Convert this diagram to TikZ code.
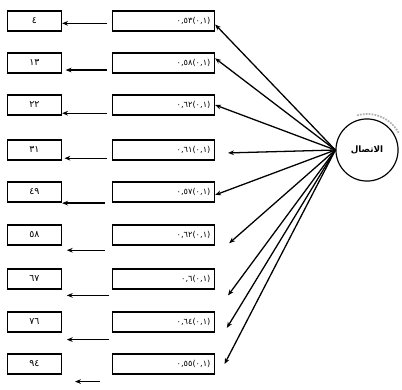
\documentclass[tikz,border=0pt]{standalone}
\usepackage{fontspec}
\newfontfamily\arabicfont[Script=Arabic]{DejaVu Sans}
\newfontfamily\digitfont{DejaVu Sans}
\TeXXeTstate=1
\usetikzlibrary{arrows.meta, positioning}

% loading and its error, kept in reading order
\newcommand{\ldval}[2]{\hbox{#1}\hbox{(#2)}}

\begin{document}
\begin{tikzpicture}[x=0.03cm, y=-0.03cm, >={Stealth[length=5pt, width=4pt]},
  itembox/.style={draw, line width=1.2pt, minimum width=46pt, minimum height=17pt, inner sep=0pt, font=\digitfont\fontsize{8}{9}\selectfont},
  loadbox/.style={draw, line width=1.2pt, minimum width=87pt, minimum height=17pt, inner sep=0pt, text width=80pt, align=right, font=\digitfont\fontsize{7}{8}\selectfont},
  arr/.style={->, line width=1.1pt}]

\useasboundingbox (0,0) rectangle (402,389);

% latent factor on the right
\node[draw, circle, line width=1pt, minimum size=53pt, inner sep=0pt, font=\arabicfont\bfseries\fontsize{7.5}{8}\selectfont] (comm) at (367,150) {\beginR الاتصال\endR};
% faint scan arc above the circle
\draw[gray!60, densely dotted, line width=1.5pt] (comm.center) ++(-106:36) arc[start angle=-106, end angle=-27, radius=36];

% loading boxes (middle column)
\node[loadbox] (ld1) at (163.5,21)  {\ldval{٠,٥٣}{٠,١}};
\node[loadbox] (ld2) at (163.5,63)  {\ldval{٠,٥٨}{٠,١}};
\node[loadbox] (ld3) at (163.5,105) {\ldval{٠,٦٢}{٠,١}};
\node[loadbox] (ld4) at (163.5,150) {\ldval{٠,٦١}{٠,١}};
\node[loadbox] (ld5) at (163.5,192) {\ldval{٠,٥٧}{٠,١}};
\node[loadbox] (ld6) at (163.5,235) {\ldval{٠,٦٢}{٠,١}};
\node[loadbox] (ld7) at (163.5,279) {\ldval{٠,٦}{٠,١}};
\node[loadbox] (ld8) at (163.5,322) {\ldval{٠,٦٤}{٠,١}};
\node[loadbox] (ld9) at (163.5,364) {\ldval{٠,٥٥}{٠,١}};

% item boxes (left column)
\node[itembox] (it1) at (34.5,21)  {٤};
\node[itembox] (it2) at (34.5,63)  {١٣};
\node[itembox] (it3) at (34.5,105) {٢٢};
\node[itembox] (it4) at (34.5,150) {٣١};
\node[itembox] (it5) at (34.5,192) {٤٩};
\node[itembox] (it6) at (34.5,235) {٥٨};
\node[itembox] (it7) at (34.5,279) {٦٧};
\node[itembox] (it8) at (34.5,322) {٧٦};
\node[itembox] (it9) at (34.5,364) {٩٤};

% arrows from the factor to the loading boxes
\draw[arr] (comm.west) -- ([yshift=-3pt]ld1.east);
\draw[arr] (comm.west) -- ([yshift=4pt]ld2.east);
\draw[arr] (comm.west) -- (ld3.east);
\draw[arr] (comm.west) -- ([xshift=11pt, yshift=-2.5pt]ld4.east);
\draw[arr] (comm.west) -- ([yshift=-2.5pt]ld5.east);
\draw[arr] (comm.west) -- ([xshift=12pt, yshift=-7pt]ld6.east);
\draw[arr] (comm.west) -- ([xshift=11pt, yshift=-14pt]ld7.east);
\draw[arr] (comm.west) -- ([xshift=10pt, yshift=-5pt]ld8.east);
\draw[arr] (comm.west) -- ([xshift=8pt]ld9.east);

% arrows from the loading boxes to the items
\draw[arr] ([xshift=-4pt, yshift=-2pt]ld1.west) -- ([yshift=-2pt]it1.east);
\draw[arr] ([xshift=-4pt, yshift=-6pt]ld2.west) -- ([xshift=3pt, yshift=-6pt]it2.east);
\draw[arr] ([xshift=-4pt, yshift=-7pt]ld3.west) -- ([yshift=-7pt]it3.east);
\draw[arr] ([xshift=-4pt, yshift=-7pt]ld4.west) -- ([xshift=2pt, yshift=-7pt]it4.east);
\draw[arr] ([xshift=-6pt, yshift=-9.5pt]ld5.west) -- ([yshift=-9.5pt]it5.east);
\draw[arr] ([xshift=-6pt, yshift=-13pt]ld6.west) -- ([xshift=4pt, yshift=-13pt]it6.east);
\draw[arr] ([xshift=-2pt, yshift=-14pt]ld7.west) -- ([xshift=4pt, yshift=-14pt]it7.east);
\draw[arr] ([xshift=-2pt, yshift=-15pt]ld8.west) -- ([xshift=4pt, yshift=-15pt]it8.east);
\draw[arr] ([xshift=-10pt, yshift=-15pt]ld9.west) -- ([xshift=11pt, yshift=-15pt]it9.east);

\end{tikzpicture}
\end{document}
